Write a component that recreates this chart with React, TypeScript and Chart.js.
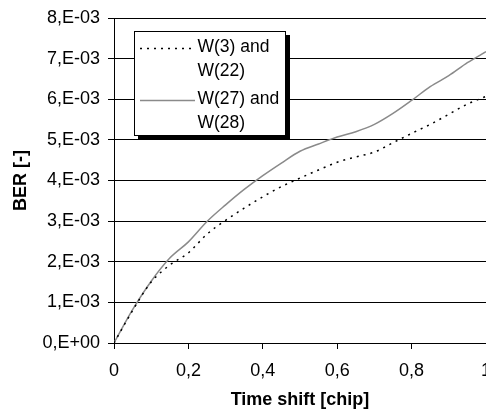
import React, { useEffect, useRef } from "react";
import { Chart, registerables } from "chart.js";

Chart.register(...registerables);

const timeShift = [0, 0.05, 0.1, 0.15, 0.2, 0.25, 0.3, 0.35, 0.4, 0.45, 0.5, 0.55, 0.6, 0.65, 0.7, 0.75, 0.8, 0.85, 0.9, 0.95, 1.0];
const berW3W22 = [0, 0.0008, 0.0015, 0.00192, 0.00222, 0.00268, 0.00302, 0.00332, 0.0036, 0.00385, 0.00406, 0.00426, 0.00445, 0.00458, 0.0047, 0.00493, 0.00516, 0.00538, 0.00563, 0.00588, 0.00607];
const berW27W28 = [0, 0.00082, 0.00152, 0.00209, 0.00249, 0.00299, 0.0034, 0.00378, 0.00412, 0.00443, 0.00472, 0.0049, 0.00507, 0.0052, 0.00538, 0.00565, 0.00597, 0.00631, 0.00658, 0.0069, 0.00717];
const seriesNames = [["W(3) and", "W(22)"], ["W(27) and", "W(28)"]];
const xTitle = "Time shift [chip]";
const yTitle = "BER [-]";

const FONT = "'Liberation Sans', Arial, sans-serif";

const boxLegend = {
  id: "boxLegend",
  afterDatasetsDraw(chart: any) {
    const { ctx, chartArea } = chart;
    const l = chartArea.left + 20.5;
    const t = chartArea.top + 13.5;
    const w = 151;
    const h = 104;
    ctx.save();
    ctx.fillStyle = "#000";
    ctx.fillRect(l + 3.5, t + 3.5, w + 1, h + 1);
    ctx.fillStyle = "#fff";
    ctx.fillRect(l, t, w, h);
    ctx.strokeStyle = "#000";
    ctx.lineWidth = 1;
    ctx.strokeRect(l, t, w, h);
    chart.data.datasets.forEach((ds: any, i: number) => {
      const base = t + i * 52;
      ctx.beginPath();
      ctx.strokeStyle = ds.borderColor;
      ctx.lineWidth = ds.borderWidth;
      ctx.setLineDash(ds.borderDash || []);
      ctx.moveTo(l + 5.5, base + 17);
      ctx.lineTo(l + 60.5, base + 17);
      ctx.stroke();
      ctx.setLineDash([]);
      ctx.fillStyle = "#000";
      ctx.font = `17.5px ${FONT}`;
      ctx.textBaseline = "alphabetic";
      ctx.textAlign = "left";
      const lines = seriesNames[i];
      lines.forEach((s, j) => ctx.fillText(s, l + 63, base + 20.5 + j * 23.5));
    });
    ctx.restore();
  },
};

export default function App() {
  const ref = useRef<HTMLCanvasElement>(null);
  useEffect(() => {
    document.body.style.margin = "0";
    const chart = new Chart(ref.current!, {
      type: "line",
      data: {
        labels: timeShift,
        datasets: [
          {
            label: seriesNames[0].join(" "),
            data: timeShift.map((x, i) => ({ x, y: berW3W22[i] })),
            borderColor: "#000",
            borderWidth: 1.5,
            borderDash: [2, 5],
            pointRadius: 0,
            cubicInterpolationMode: "monotone",
            fill: false,
          },
          {
            label: seriesNames[1].join(" "),
            data: timeShift.map((x, i) => ({ x, y: berW27W28[i] })),
            borderColor: "#8a8a8a",
            borderWidth: 1.5,
            pointRadius: 0,
            cubicInterpolationMode: "monotone",
            fill: false,
          },
        ],
      },
      options: {
        animation: false,
        responsive: false,
        layout: { padding: { top: 18, right: 0, bottom: 0, left: 0 } },
        plugins: { legend: { display: false }, tooltip: { enabled: false } },
        scales: {
          x: {
            type: "linear",
            min: 0,
            max: 1,
            afterFit(s: any) {
              s.height = 69;
              s.paddingLeft = 0;
              s.paddingRight = 0;
            },
            ticks: {
              stepSize: 0.2,
              color: "#000",
              font: { family: FONT, size: 18 },
              padding: 11,
              maxRotation: 0,
              callback: (v: any) => {
                const r = Math.round(Number(v) * 10) / 10;
                return r === 0 ? "0" : r === 1 ? "1" : r.toFixed(1).replace(".", ",");
              },
            },
            grid: { drawOnChartArea: false, drawTicks: true, tickLength: 6, color: "#000" },
            border: { display: true, color: "#000" },
            title: {
              display: true,
              text: xTitle,
              color: "#000",
              font: { family: FONT, size: 18, weight: "bold" },
              padding: { top: 0, bottom: 1 },
            },
          },
          y: {
            min: 0,
            max: 0.008,
            afterFit(s: any) {
              s.width = 114;
              s.paddingTop = 0;
              s.paddingBottom = 0;
            },
            ticks: {
              stepSize: 0.001,
              color: "#000",
              font: { family: FONT, size: 18 },
              padding: 8,
              callback: (v: any) => {
                const r = Math.round(Number(v) * 1000);
                return r === 0 ? "0,E+00" : `${r},E-03`;
              },
            },
            grid: { color: "#000", tickLength: 6 },
            border: { display: true, color: "#000" },
            title: {
              display: true,
              text: yTitle,
              color: "#000",
              font: { family: FONT, size: 18, weight: "bold" },
              padding: { top: 10, bottom: 0 },
            },
          },
        },
      },
      plugins: [boxLegend],
    });
    return () => chart.destroy();
  }, []);
  return (
    <div style={{ width: 486, height: 412 }}>
      <canvas ref={ref} width={486} height={412} style={{ display: "block", width: 486, height: 412 }} />
    </div>
  );
}
